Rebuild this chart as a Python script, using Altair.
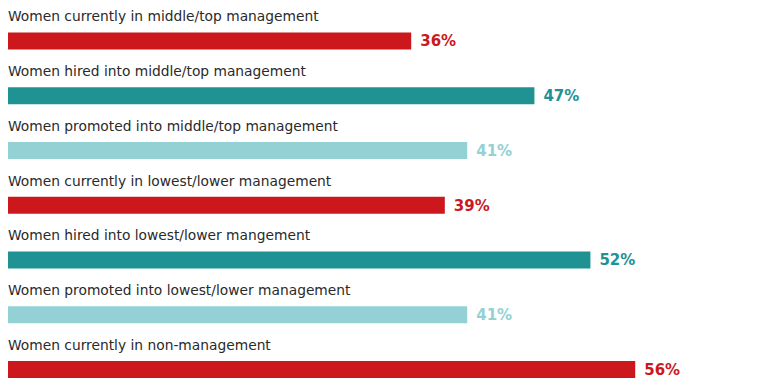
import altair as alt
import pandas as pd

categories = [
    "Women currently in middle/top management",
    "Women hired into middle/top management",
    "Women promoted into middle/top management",
    "Women currently in lowest/lower management",
    "Women hired into lowest/lower mangement",
    "Women promoted into lowest/lower management",
    "Women currently in non-management",
]
values = [36, 47, 41, 39, 52, 41, 56]
kinds = ["current", "hired", "promoted", "current", "hired", "promoted", "current"]
kind_names = ["current", "hired", "promoted"]
kind_colors = ["#CC181C", "#1F9294", "#93D1D4"]

df = pd.DataFrame({
    "category": categories,
    "value": values,
    "kind": kinds,
    "idx": list(range(len(categories))),
    "label": [f"{v}%" for v in values],
})

x = alt.X("value:Q", scale=alt.Scale(domain=[0, 67.14], nice=False, zero=True, padding=0), axis=None)
y = alt.Y("idx:Q", scale=alt.Scale(domain=[-0.6027, 6.192], reverse=True, nice=False, zero=False, padding=0), axis=None)
color = alt.Color("kind:N", scale=alt.Scale(domain=kind_names, range=kind_colors), legend=None)

base = alt.Chart(df)

bars = base.mark_bar(orient="horizontal", height=17).encode(x=x, y=y, color=color)

vals = base.mark_text(
    align="left", baseline="middle", dx=9, dy=0.5,
    font="DejaVu Sans", fontSize=15, fontWeight="bold"
).encode(x=x, y=y, text="label:N", color=color)

cats = base.mark_text(
    align="left", baseline="alphabetic", dy=-19.5,
    font="DejaVu Sans", fontSize=13.8, color="#2a2a2a"
).encode(x=alt.value(0), y=y, text="category:N")

chart = (bars + vals + cats).properties(
    width=752, height=372,
    autosize=alt.AutoSizeParams(type="none"),
    padding=0,
).configure_view(stroke=None)

chart.save("out.html", embed_options={"renderer": "svg", "actions": False})
